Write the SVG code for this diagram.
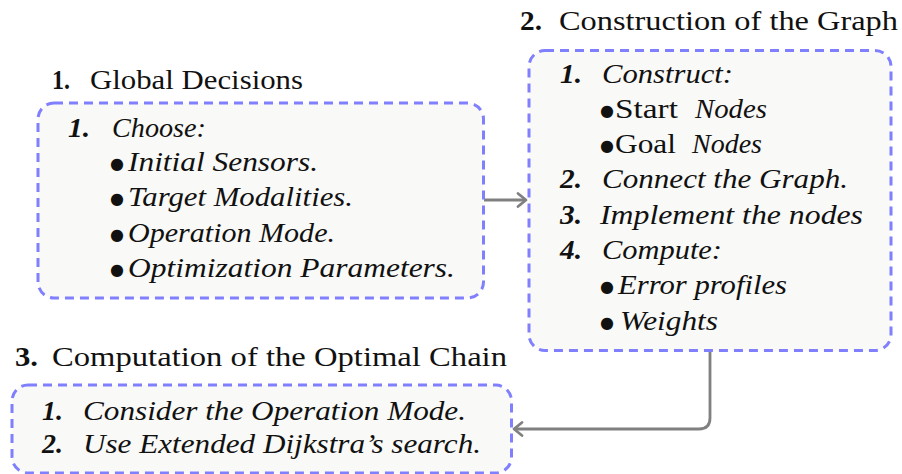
<svg xmlns="http://www.w3.org/2000/svg" width="902" height="474" viewBox="0 0 902 474">
<style>
.box{fill:#f9f9f7;stroke:#8080ff;stroke-width:3;stroke-dasharray:9 6}
.b{font-weight:bold}
.i{font-style:italic}
.conn{fill:none;stroke:#808080;stroke-width:2.8;stroke-linejoin:round}
</style>
<defs>
<marker id="ah" markerUnits="userSpaceOnUse" markerWidth="20" markerHeight="20" refX="0" refY="0" viewBox="-10 -10 20 20" orient="auto" overflow="visible">
<path d="M-8,-6.5 L0,0 L-8,6.5" fill="none" stroke="#808080" stroke-width="2.8" stroke-linecap="round" stroke-linejoin="round"/>
</marker>
</defs>
<rect width="902" height="474" fill="#ffffff"/>

<g id="connectors">
<path class="conn" d="M484,200 H526" marker-end="url(#ah)"/>
<path class="conn" d="M710,352 V418 Q710,429 699,429 H514" marker-end="url(#ah)"/>
</g>

<g font-family="Liberation Serif, Tinos, Times New Roman, DejaVu Serif, serif" font-size="28" fill="#111">
<g id="node1">
<text class="b" x="52" y="89" textLength="18" lengthAdjust="spacingAndGlyphs">1.</text>
<text x="90" y="89" textLength="213" lengthAdjust="spacingAndGlyphs">Global Decisions</text>
<rect class="box" x="38" y="103" width="445.5" height="195" rx="16"/>
<text class="b i" x="68" y="136.5" textLength="22" lengthAdjust="spacingAndGlyphs">1.</text>
<text class="i" x="112" y="136.5" textLength="94" lengthAdjust="spacingAndGlyphs">Choose:</text>
<text font-family="DejaVu Sans, sans-serif" font-size="16" text-anchor="middle" x="117" y="169">●</text>
<text class="i" x="128" y="171" textLength="190" lengthAdjust="spacingAndGlyphs">Initial Sensors.</text>
<text font-family="DejaVu Sans, sans-serif" font-size="16" text-anchor="middle" x="117" y="204">●</text>
<text class="i" x="128" y="206" textLength="225" lengthAdjust="spacingAndGlyphs">Target Modalities.</text>
<text font-family="DejaVu Sans, sans-serif" font-size="16" text-anchor="middle" x="117" y="239.5">●</text>
<text class="i" x="128" y="241.5" textLength="207" lengthAdjust="spacingAndGlyphs">Operation Mode.</text>
<text font-family="DejaVu Sans, sans-serif" font-size="16" text-anchor="middle" x="117" y="275">●</text>
<text class="i" x="128" y="277" textLength="327" lengthAdjust="spacingAndGlyphs">Optimization Parameters.</text>
</g>

<g id="node2">
<text class="b" x="520" y="30" textLength="22" lengthAdjust="spacingAndGlyphs">2.</text>
<text x="559" y="30" textLength="339" lengthAdjust="spacingAndGlyphs">Construction of the Graph</text>
<rect class="box" x="529" y="50.5" width="362" height="300" rx="16"/>
<text class="b i" x="560" y="83" textLength="22" lengthAdjust="spacingAndGlyphs">1.</text>
<text class="i" x="602" y="83" textLength="131" lengthAdjust="spacingAndGlyphs">Construct:</text>
<text font-family="DejaVu Sans, sans-serif" font-size="16" text-anchor="middle" x="607" y="116">●</text>
<text x="615" y="118" textLength="63" lengthAdjust="spacingAndGlyphs">Start</text>
<text class="i" x="695" y="118" textLength="72" lengthAdjust="spacingAndGlyphs">Nodes</text>
<text font-family="DejaVu Sans, sans-serif" font-size="16" text-anchor="middle" x="607" y="151">●</text>
<text x="615" y="153" textLength="61" lengthAdjust="spacingAndGlyphs">Goal</text>
<text class="i" x="692" y="153" textLength="70" lengthAdjust="spacingAndGlyphs">Nodes</text>
<text class="b i" x="560" y="188" textLength="22" lengthAdjust="spacingAndGlyphs">2.</text>
<text class="i" x="602" y="188" textLength="246" lengthAdjust="spacingAndGlyphs">Connect the Graph.</text>
<text class="b i" x="560" y="224" textLength="22" lengthAdjust="spacingAndGlyphs">3.</text>
<text class="i" x="600" y="224" textLength="263" lengthAdjust="spacingAndGlyphs">Implement the nodes</text>
<text class="b i" x="560" y="259" textLength="22" lengthAdjust="spacingAndGlyphs">4.</text>
<text class="i" x="602" y="259" textLength="120" lengthAdjust="spacingAndGlyphs">Compute:</text>
<text font-family="DejaVu Sans, sans-serif" font-size="16" text-anchor="middle" x="607" y="292">●</text>
<text class="i" x="618" y="294" textLength="169" lengthAdjust="spacingAndGlyphs">Error profiles</text>
<text font-family="DejaVu Sans, sans-serif" font-size="16" text-anchor="middle" x="607" y="328">●</text>
<text class="i" x="620" y="330" textLength="98" lengthAdjust="spacingAndGlyphs">Weights</text>
</g>

<g id="node3">
<text class="b" x="15" y="366" textLength="23" lengthAdjust="spacingAndGlyphs">3.</text>
<text x="52" y="366" textLength="455" lengthAdjust="spacingAndGlyphs">Computation of the Optimal Chain</text>
<rect class="box" x="12" y="385" width="499.5" height="88" rx="16"/>
<text class="b i" x="42" y="420" textLength="21" lengthAdjust="spacingAndGlyphs">1.</text>
<text class="i" x="83" y="420" textLength="383" lengthAdjust="spacingAndGlyphs">Consider the Operation Mode.</text>
<text class="b i" x="42" y="452.5" textLength="21" lengthAdjust="spacingAndGlyphs">2.</text>
<text class="i" x="83" y="452.5" textLength="398" lengthAdjust="spacingAndGlyphs">Use Extended Dijkstra’s search.</text>
</g>
</g>
</svg>
